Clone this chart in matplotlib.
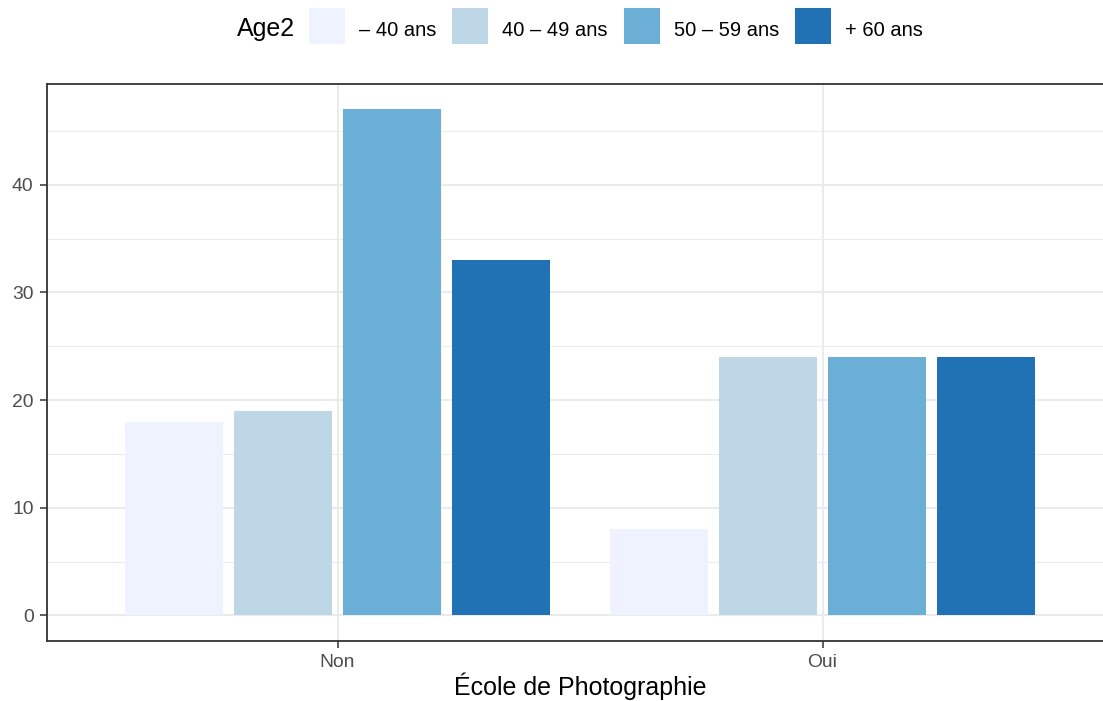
import matplotlib
matplotlib.use("Agg")
import matplotlib.pyplot as plt
from matplotlib.patches import Rectangle
import numpy as np

plt.rcParams['font.family'] = ['Liberation Sans', 'DejaVu Sans']

categories = ["Non", "Oui"]
age_groups = ["\u2013 40 ans", "40 \u2013 49 ans", "50 \u2013 59 ans", "+ 60 ans"]
counts = {
    "\u2013 40 ans": [18, 8],
    "40 \u2013 49 ans": [19, 24],
    "50 \u2013 59 ans": [47, 24],
    "+ 60 ans": [33, 24],
}
colors = ["#EFF3FF", "#BDD7E7", "#6BAED6", "#2171B5"]
y_ticks = [0, 10, 20, 30, 40]
y_minor = [5, 15, 25, 35, 45]

W, H = 1103, 701
fig = plt.figure(figsize=(W / 100, H / 100), dpi=100)

def px(x0, y0, x1, y1):
    return [x0 / W, 1 - y1 / H, (x1 - x0) / W, (y1 - y0) / H]

ax = fig.add_axes(px(46.5, 84, 1113.5, 640.7))

x = np.arange(len(categories))
n = len(age_groups)
slot = 0.9 / n
bw = slot * 0.9
for i, g in enumerate(age_groups):
    ax.bar(x + (i - (n - 1) / 2) * slot, counts[g], width=bw, color=colors[i],
           edgecolor='none', zorder=2)

allvals = [v for g in age_groups for v in counts[g]]
ymax = max(allvals)
ax.set_ylim(-0.05 * ymax, ymax * 1.05)
ax.set_xlim(-0.6, len(categories) - 1 + 0.6)

ax.set_yticks(y_ticks)
ax.set_yticks(y_minor, minor=True)
ax.set_xticks(x)
ax.set_xticklabels(categories)
ax.grid(True, which='major', color='#EBEBEB', linewidth=1.4, zorder=0)
ax.grid(True, which='minor', axis='y', color='#EBEBEB', linewidth=0.75, zorder=0)
ax.set_axisbelow(True)
ax.tick_params(axis='both', which='major', length=5, width=1.1, color='#333333',
               labelcolor='#4D4D4D', labelsize=13.9, pad=4.3)
ax.tick_params(axis='both', which='minor', length=0)
for s in ax.spines.values():
    s.set_color('#333333')
    s.set_linewidth(1.3)

# x-axis title, centred on the visible panel area
fig.text(580 / W, 1 - 695 / H, "\u00c9cole de Photographie", fontsize=18,
         color='black', ha='center', va='baseline')

# Legend at top
fig.text(237 / W, 1 - 36 / H, "Age2", fontsize=18, ha='left', va='baseline')
key_x = [309, 452, 624, 795]
for i, g in enumerate(age_groups):
    kx = key_x[i]
    fig.patches.append(Rectangle((kx / W, 1 - 44 / H), 36 / W, 36 / H,
                                 transform=fig.transFigure, facecolor=colors[i],
                                 edgecolor='none'))
    fig.text((kx + 50) / W, 1 - 36 / H, g, fontsize=14.5, ha='left', va='baseline')

fig.savefig("out.png", dpi=100)
